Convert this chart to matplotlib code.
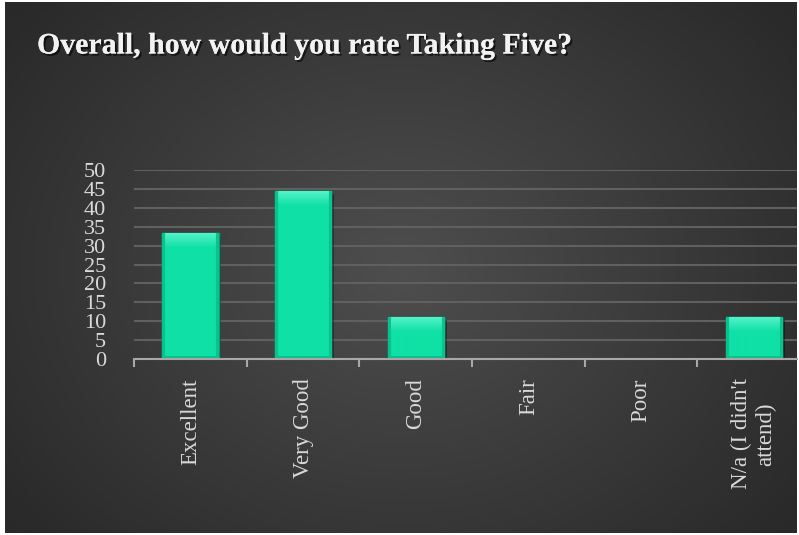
import numpy as np
import matplotlib
matplotlib.use("Agg")
import matplotlib.pyplot as plt
import matplotlib.patheffects as pe

categories = ["Excellent", "Very Good", "Good", "Fair", "Poor", "N/a (I didn't\nattend)"]
values = [33.33, 44.44, 11.11, 0, 0, 11.11]
yticks = [0, 5, 10, 15, 20, 25, 30, 35, 40, 45, 50]
title = "Overall, how would you rate Taking Five?"

W, H = 799, 535
fig = plt.figure(figsize=(W / 100, H / 100), dpi=100)
fig.patch.set_facecolor("white")

# background panel with radial gradient
bg = fig.add_axes([5 / W, 2 / H, 792 / W, 531 / H])
ny, nx = 300, 450
yy, xx = np.mgrid[0:ny, 0:nx]
cx, cy = nx * 0.50, ny * 0.50
r = np.sqrt(((xx - cx) / (nx * 0.62)) ** 2 + ((yy - cy) / (ny * 0.75)) ** 2)
r = np.clip(r, 0, 1)
light = np.array([0x4e, 0x4e, 0x4e]) / 255
dark = np.array([0x2a, 0x2a, 0x2a]) / 255
img = light[None, None, :] * (1 - r[..., None]) + dark[None, None, :] * r[..., None]
bg.imshow(img, aspect="auto", extent=[0, 1, 0, 1], interpolation="bicubic")
bg.set_axis_off()

# title
fig.text(37 / W, 1 - 46 / H, title, fontsize=21.5, fontweight="bold",
         family=["Liberation Serif", "DejaVu Serif"], color="#f2f2f2",
         ha="left", va="center",
         path_effects=[pe.withSimplePatchShadow(offset=(1.5, -1.5), shadow_rgbFace="black", alpha=0.6),
                       pe.Normal()])

# plot axes (reference crops the last category slightly at the right edge)
left, right_full, right_vis = 134, 810, 797
bottom, top = 359, 170
ax = fig.add_axes([left / W, 1 - bottom / H, (right_vis - left) / W, (bottom - top) / H])
ax.set_facecolor("none")
n = len(categories)
x = np.arange(n)
bars = ax.bar(x, values, width=0.5, color="#12dca0",
              edgecolor=["#0c9b72" if v > 0 else "none" for v in values],
              linewidth=1.0, zorder=3,
              path_effects=[pe.withSimplePatchShadow(offset=(2, -2), shadow_rgbFace="black", alpha=0.35),
                            pe.Normal()])
ax.set_xlim(-0.5, -0.5 + n * (right_vis - left) / (right_full - left))
ax.set_ylim(0, 50)

# bevel-like shading inside each bar
px_per_unit = (bottom - top) / 50.0
base = np.array([0x0f, 0xe0, 0xa5]) / 255
hi = np.array([0x6a, 0xf7, 0xd3]) / 255
side = np.array([0x0a, 0xc2, 0x8c]) / 255
for b, v in zip(bars, values):
    if v <= 0:
        continue
    h = max(int(round(v * px_per_unit)), 2)
    w = 56
    im = np.tile(base, (h, w, 1)).astype(float)
    band = min(14, h)
    for i in range(band):
        t = 1 - i / band
        im[i, :, :] = base * (1 - 0.75 * t) + hi * (0.75 * t)
    im[:, :3, :] = side
    im[:, -3:, :] = side
    im[-3:, :, :] = side
    bx, by = b.get_x(), b.get_y()
    bw, bh = b.get_width(), b.get_height()
    art = ax.imshow(im, extent=[bx, bx + bw, by, by + bh], aspect="auto",
                    zorder=3.5, interpolation="bilinear")
    art.set_clip_path(b)
ax.set_xlim(-0.5, -0.5 + n * (right_vis - left) / (right_full - left))
ax.set_ylim(0, 50)

ax.set_yticks(yticks)
ax.yaxis.grid(True, color="#606060", linewidth=1.5, zorder=0)
ax.set_axisbelow(True)
for s in ["top", "right", "left"]:
    ax.spines[s].set_visible(False)
ax.spines["bottom"].set_color("#a8a8a8")
ax.spines["bottom"].set_linewidth(1.5)
ax.spines["bottom"].set_zorder(4)
ax.set_xticks(x)
ax.set_xticklabels(categories, rotation=90, ha="center", va="top", multialignment="center")
ax.set_xticks(np.arange(-0.5, n - 0.5, 1), minor=True)
ax.tick_params(axis="x", which="major", length=0, pad=14)
ax.tick_params(axis="x", which="minor", length=6, width=1.5, color="#a8a8a8", direction="out")
ax.tick_params(axis="y", length=0, pad=20)
for lab in ax.get_xticklabels():
    lab.set_fontfamily(["Liberation Serif", "DejaVu Serif"])
    lab.set_fontsize(16.5)
    lab.set_color("#d9d9d9")
for lab in ax.get_yticklabels():
    lab.set_fontfamily(["Liberation Serif", "DejaVu Serif"])
    lab.set_fontsize(16)
    lab.set_color("#d9d9d9")

fig.savefig("out.png", dpi=100, facecolor=fig.get_facecolor())
